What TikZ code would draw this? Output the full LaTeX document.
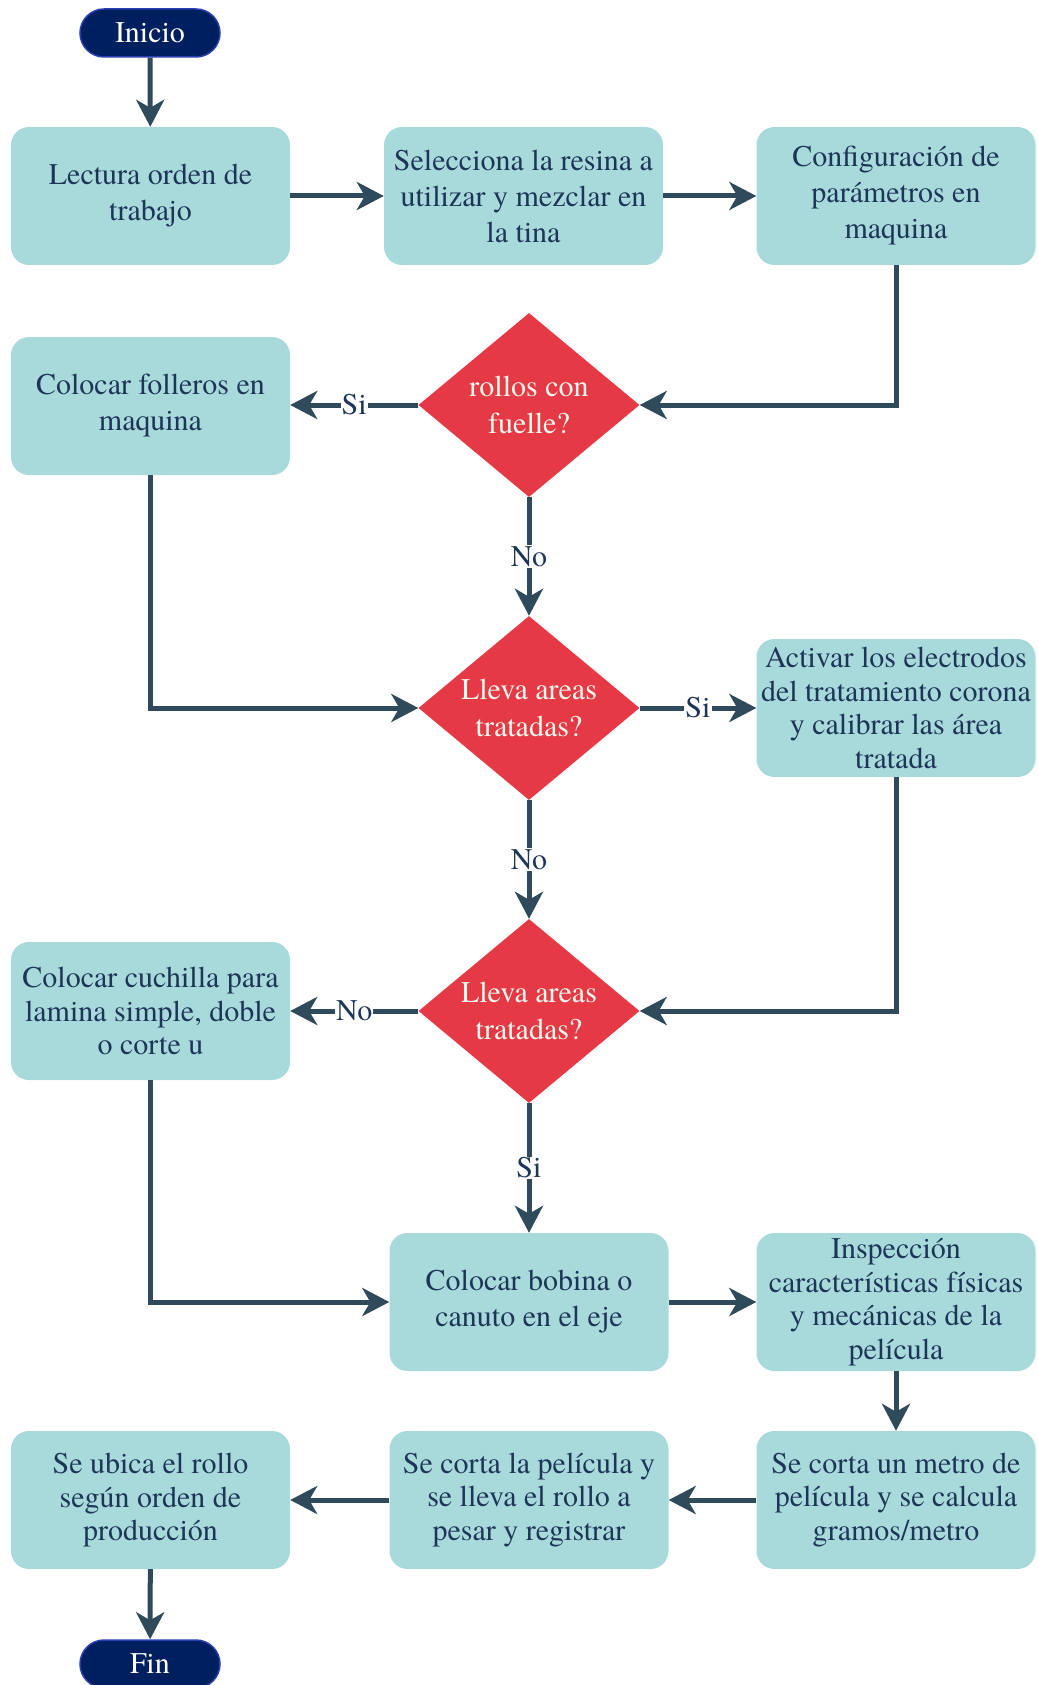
\documentclass[tikz,border=0pt]{standalone}
\usepackage{fontspec}
\setmainfont{texgyretermes}[Extension=.otf, UprightFont=*-regular]
\usetikzlibrary{shapes.geometric,arrows.meta}
\definecolor{boxfill}{HTML}{A8DADC}
\definecolor{boxtext}{HTML}{1D3557}
\definecolor{decfill}{HTML}{E63946}
\definecolor{dectext}{HTML}{F1FAEE}
\definecolor{flow}{HTML}{2F4A5A}
\definecolor{termfill}{HTML}{001F5F}
\definecolor{termdraw}{HTML}{2A3FB0}

\begin{document}
\begin{tikzpicture}[x=1pt,y=-1pt,
  every node/.style={font=\fontsize{30}{36}\selectfont},
  process/.style={rectangle, rounded corners=18pt, fill=boxfill, text=boxtext,
    minimum width=279pt, minimum height=138pt, inner sep=2pt, align=center,
    execute at begin node={\rule{0pt}{27pt}}},
  tight/.style={font=\fontsize{30}{33.5}\selectfont},
  decision/.style={diamond, fill=decfill, text=dectext, minimum width=221pt,
    minimum height=184pt, inner sep=0pt, aspect=1.2, align=center,
    font=\fontsize{30}{36.5}\selectfont},
  terminal/.style={rectangle, rounded corners=24pt, fill=termfill, draw=termdraw,
    line width=1.5pt, text=white, minimum width=140pt, minimum height=48pt, inner sep=0pt},
  flowline/.style={draw=flow, line width=5pt, -{Stealth[length=27pt,width=28pt,inset=8pt]}},
  lbl/.style={fill=white, text=boxtext, inner sep=1pt}
]
\useasboundingbox (0,0) rectangle (1037,1685);

% nodes
\node[terminal] (inicio) at (150,33) {Inicio};
\node[process] (lectura) at (150.5,196) {Lectura orden de\\trabajo};
\node[process] (resina) at (523.5,196) {Selecciona la resina a\\utilizar y mezclar en\\la tina};
\node[process] (config) at (896,196) {Configuración de\\parámetros en\\maquina};
\node[decision] (d1) at (529,405) {rollos con\\fuelle?};
\node[process] (folleros) at (150.5,406) {Colocar folleros en\\maquina};
\node[decision] (d2) at (529,708) {Lleva areas\\tratadas?};
\node[process, tight] (activar) at (896,708) {Activar los electrodos\\del tratamiento corona\\y calibrar las área\\tratada};
\node[decision] (d3) at (529,1011) {Lleva areas\\tratadas?};
\node[process, tight] (cuchilla) at (150.5,1011) {Colocar cuchilla para\\lamina simple, doble\\o corte u};
\node[process] (bobina) at (529,1302) {Colocar bobina o\\canuto en el eje};
\node[process, tight] (inspeccion) at (896,1302) {Inspección\\características físicas\\y mecánicas de la\\película};
\node[process, tight] (metro) at (896,1500) {Se corta un metro de\\película y se calcula\\gramos/metro};
\node[process, tight] (pesar) at (529,1500) {Se corta la película y\\se lleva el rollo a\\pesar y registrar};
\node[process, tight] (ubica) at (150.5,1500) {Se ubica el rollo\\según orden de\\producción};
\node[terminal] (fin) at (150,1664) {Fin};

% connectors
\draw[flowline] (inicio) -- (lectura);
\draw[flowline] (lectura) -- (resina);
\draw[flowline] (resina) -- (config);
\draw[flowline] (config.south) |- (d1.east);
\draw[flowline] (d1) -- node[lbl]{Si} (folleros.east |- d1);
\draw[flowline] (d1) -- node[lbl]{No} (d2);
\draw[flowline] (folleros.south) |- (d2.west);
\draw[flowline] (d2) -- node[lbl]{Si} (activar);
\draw[flowline] (activar.south) |- (d3.east);
\draw[flowline] (d2) -- node[lbl]{No} (d3);
\draw[flowline] (d3) -- node[lbl]{No} (cuchilla);
\draw[flowline] (d3) -- node[lbl]{Si} (bobina);
\draw[flowline] (cuchilla.south) |- (bobina.west);
\draw[flowline] (bobina) -- (inspeccion);
\draw[flowline] (inspeccion) -- (metro);
\draw[flowline] (metro) -- (pesar);
\draw[flowline] (pesar) -- (ubica);
\draw[flowline] (ubica) -- (fin);
\end{tikzpicture}
\end{document}
